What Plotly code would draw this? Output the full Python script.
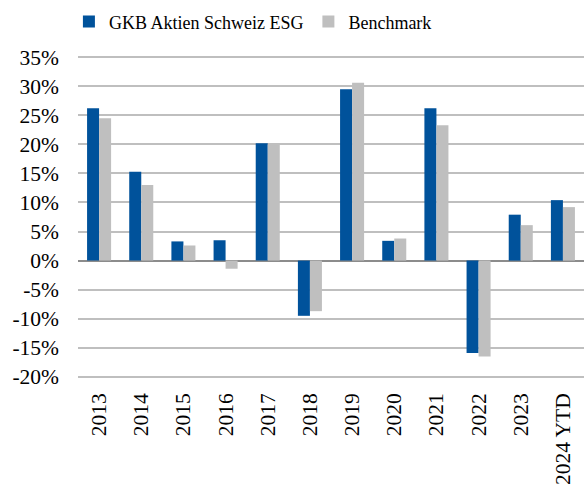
import plotly.graph_objects as go

years = ["2013", "2014", "2015", "2016", "2017", "2018", "2019",
         "2020", "2021", "2022", "2023", "2024 YTD"]
fund_returns = [26.2, 15.3, 3.3, 3.5, 20.2, -9.5, 29.5, 3.4, 26.2, -15.9, 7.9, 10.4]
benchmark_returns = [24.5, 13.0, 2.6, -1.4, 20.0, -8.7, 30.6, 3.8, 23.3, -16.5, 6.1, 9.2]
y_ticks = [-20, -15, -10, -5, 0, 5, 10, 15, 20, 25, 30, 35]
y_tick_labels = ["-20%", "-15%", "-10%", "-5%", "0%", "5%", "10%",
                 "15%", "20%", "25%", "30%", "35%"]

FONT = "Times New Roman, Liberation Serif, serif"
BLUE = "#00529B"
GREY = "#BFBFBF"

fig = go.Figure()
fig.add_trace(go.Bar(x=years, y=fund_returns, name="GKB Aktien Schweiz ESG",
                     marker=dict(color=BLUE, line=dict(width=0))))
fig.add_trace(go.Bar(x=years, y=benchmark_returns, name="Benchmark",
                     marker=dict(color=GREY, line=dict(width=0))))

fig.update_layout(
    width=584, height=486,
    margin=dict(l=78, r=0, t=56, b=108),
    paper_bgcolor="white", plot_bgcolor="white",
    barmode="group", bargap=0.43, bargroupgap=0,
    font=dict(family=FONT, size=21, color="#000000"),
    showlegend=True,
    legend=dict(orientation="h", xref="container", x=0.118, xanchor="left",
                yref="container", y=0.955, yanchor="middle",
                font=dict(family=FONT, size=18, color="#000000"),
                itemwidth=30, traceorder="normal"),
    xaxis=dict(type="category", tickangle=-90, showgrid=False, showline=False,
               ticks="", ticklabelstandoff=10, tickfont=dict(size=21.5)),
    yaxis=dict(range=[-20.2, 35.2], tickvals=y_ticks, ticktext=y_tick_labels,
               showgrid=True, gridcolor="#BFBFBF", gridwidth=2,
               zeroline=True, zerolinecolor="#8C8C8C", zerolinewidth=2,
               showline=False, ticks="", ticklabelstandoff=18,
               tickfont=dict(size=21.5)),
)

fig.write_html("out.html")
